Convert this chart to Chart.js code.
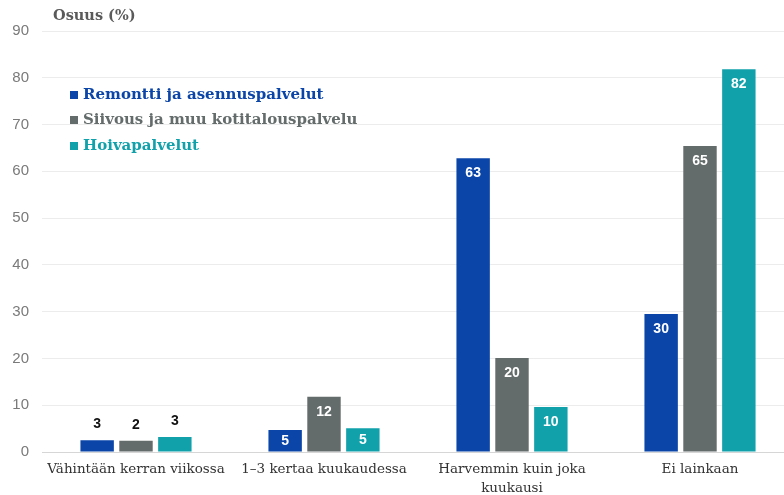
<!DOCTYPE html>
<html><head><meta charset="utf-8">
<script src="https://cdn.jsdelivr.net/npm/chart.js@4"></script>
<style>html,body{margin:0;padding:0;background:#fff;overflow:hidden}#wrap{width:794px;height:495px}</style>
</head><body><div id="wrap"><canvas id="c" width="794" height="495"></canvas></div>
<script>
const categories = ["Vähintään kerran viikossa", "1–3 kertaa kuukaudessa", ["Harvemmin kuin joka", "kuukausi"], "Ei lainkaan"];
const seriesNames = ["Remontti ja asennuspalvelut", "Siivous ja muu kotitalouspalvelu", "Hoivapalvelut"];
const remontti = [2.5, 4.7, 62.8, 29.5];
const siivous = [2.4, 11.8, 20.1, 65.4];
const hoiva = [3.2, 5.1, 9.6, 81.8];
const yTicks = [0, 10, 20, 30, 40, 50, 60, 70, 80, 90];
const colors = ["#0b45a8", "#646b6b", "#11a1ab"];

const serif = "'DejaVu Serif', serif";
const sans = "'Liberation Sans', Arial, sans-serif";

const labelsPlugin = {
  id: 'barLabels',
  afterDatasetsDraw(chart) {
    const ctx = chart.ctx;
    ctx.save();
    ctx.font = "bold 14px " + sans;
    ctx.textAlign = 'center';
    ctx.textBaseline = 'middle';
    chart.data.datasets.forEach((ds, i) => {
      chart.getDatasetMeta(i).data.forEach((bar, j) => {
        const v = ds.data[j];
        const txt = String(Math.round(v));
        const h = bar.base - bar.y;
        let y;
        if (h < 16) { ctx.fillStyle = '#111'; y = bar.y - 16; }
        else if (h < 34) { ctx.fillStyle = '#fff'; y = bar.y + h / 2; }
        else { ctx.fillStyle = '#fff'; y = bar.y + 15; }
        ctx.fillText(txt, bar.x, y);
      });
    });
    ctx.restore();
  }
};

const overlayPlugin = {
  id: 'overlay',
  afterDraw(chart) {
    const ctx = chart.ctx;
    ctx.save();
    ctx.font = "bold 14.5px " + serif;
    ctx.fillStyle = '#5a5a5a';
    ctx.textBaseline = 'middle';
    ctx.textAlign = 'left';
    ctx.fillText("Osuus (%)", 53, 16);
    ctx.font = "bold 15px " + serif;
    const ys = [95, 120, 146];
    chart.data.datasets.forEach((ds, i) => {
      ctx.fillStyle = ds.backgroundColor;
      ctx.fillRect(70, ys[i] - 4, 8, 8);
      ctx.fillText(ds.label, 83, ys[i]);
    });
    ctx.restore();
  }
};

new Chart(document.getElementById('c'), {
  type: 'bar',
  data: {
    labels: categories,
    datasets: [
      { label: seriesNames[0], data: remontti, backgroundColor: colors[0] },
      { label: seriesNames[1], data: siivous, backgroundColor: colors[1] },
      { label: seriesNames[2], data: hoiva, backgroundColor: colors[2] }
    ]
  },
  options: {
    responsive: false,
    animation: false,
    layout: { padding: { top: 31, right: 0, bottom: 0, left: 0 } },
    plugins: { legend: { display: false }, tooltip: { enabled: false } },
    datasets: { bar: { categoryPercentage: 0.62, barPercentage: 0.86 } },
    scales: {
      x: {
        grid: { display: false },
        border: { display: false },
        ticks: { color: '#333', font: { family: serif, size: 13.5, lineHeight: 1.4 }, padding: 0, maxRotation: 0, autoSkip: false },
        afterFit(s) { s.height = 43; }
      },
      y: {
        min: 0, max: 90,
        afterBuildTicks(s) { s.ticks = yTicks.map(v => ({ value: v })); },
        grid: { color: ctx => ctx.tick && ctx.tick.value === 0 ? '#d6d6d6' : '#ececec', drawTicks: false, lineWidth: 1 },
        border: { display: false },
        ticks: { color: '#7a7a7a', font: { family: sans, size: 15 }, padding: 13 },
        afterFit(s) { s.width = 42; }
      }
    }
  },
  plugins: [labelsPlugin, overlayPlugin]
});
</script></body></html>
